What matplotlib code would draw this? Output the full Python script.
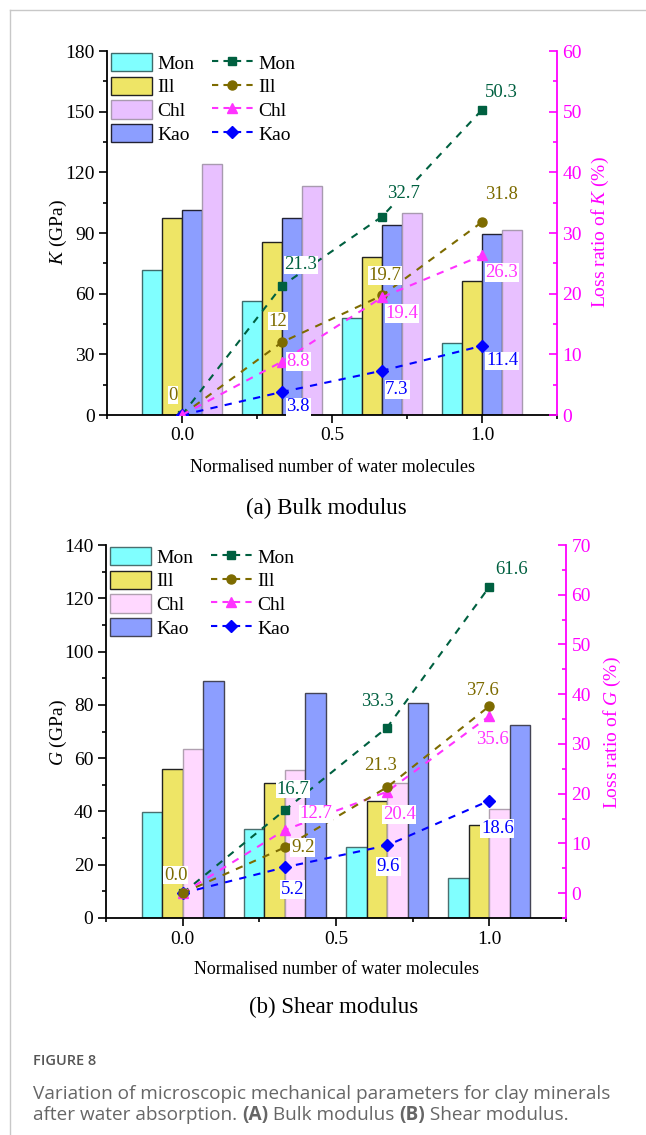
import matplotlib
matplotlib.use("Agg")
import matplotlib.pyplot as plt
from matplotlib.ticker import MultipleLocator
from matplotlib.lines import Line2D
from matplotlib.patches import Patch

plt.rcParams['font.family'] = 'Liberation Serif'
plt.rcParams['mathtext.fontset'] = 'custom'
plt.rcParams['mathtext.rm'] = 'Liberation Serif'
plt.rcParams['mathtext.it'] = 'Liberation Serif:italic'

water = [0.0, 1 / 3, 2 / 3, 1.0]
xticks = [0.0, 0.5, 1.0]
minerals = ['Mon', 'Ill', 'Chl', 'Kao']

# bulk modulus K (GPa)
bulk_mon = [71.5, 56.4, 47.8, 35.5]
bulk_ill = [97.3, 85.6, 78.0, 66.3]
bulk_chl = [124.0, 113.3, 99.9, 91.3]
bulk_kao = [101.2, 97.3, 93.8, 89.7]

# loss ratio of K (%)
kloss_mon = [0.0, 21.3, 32.7, 50.3]
kloss_ill = [0.0, 12.0, 19.7, 31.8]
kloss_chl = [0.0, 8.8, 19.4, 26.3]
kloss_kao = [0.0, 3.8, 7.3, 11.4]

# shear modulus G (GPa)
shear_mon = [39.8, 33.3, 26.5, 15.0]
shear_ill = [55.9, 50.7, 43.9, 34.8]
shear_chl = [63.6, 55.6, 50.6, 40.8]
shear_kao = [89.1, 84.6, 80.6, 72.3]

# loss ratio of G (%)
gloss_mon = [0.0, 16.7, 33.3, 61.6]
gloss_ill = [0.0, 9.2, 21.3, 37.6]
gloss_chl = [0.0, 12.7, 20.4, 35.6]
gloss_kao = [0.0, 5.2, 9.6, 18.6]

line_colors = {'Mon': '#006040', 'Ill': '#7D6B00', 'Chl': '#FF33FF', 'Kao': '#0000FF'}
markers = {'Mon': ('s', 6), 'Ill': ('o', 6.5), 'Chl': ('^', 7.5), 'Kao': ('D', 6)}
MAGENTA = '#FF00FF'
SERIF = 'Liberation Serif'

# label offsets in pixels, None = no label
k_offsets = {
    'Mon': [None, (19, 21), (21, 23), (19, 17)],
    'Ill': [(-9, 20), (-4, 21), (3, 20), (19, 28)],
    'Chl': [None, (16, 0), (20, -16), (20, -17)],
    'Kao': [None, (16, -15), (15, -19), (20, -15)],
}
g_offsets = {
    'Mon': [None, (8, 21), (-10, 26), (22, 17)],
    'Ill': [(-7, 18), (18, 0), (-7, 22), (-7, 16)],
    'Chl': [None, (31, 16), (12, -23), (3, -23)],
    'Kao': [None, (8, -22), (1, -21), (8, -28)],
}

fig = plt.figure(figsize=(6.46, 11.35), dpi=100)
W, H = 646, 1135


def panel(rect, bars, bar_order, bar_styles, losses, line_order, offsets, fmt,
          ylim, ymaj, rlim, rmaj):
    ax = fig.add_axes(rect)
    w = 0.0667
    for i, name in enumerate(bar_order):
        fc, ec = bar_styles[name]
        xs = [x + (i - 1.5) * w for x in water]
        ax.bar(xs, bars[name], width=w, color=fc, edgecolor=ec, linewidth=1.0, zorder=2)
    ax.set_xlim(-0.25, 1.25)
    ax.set_ylim(*ylim)
    ax.set_xticks(xticks)
    ax.set_xticklabels(['%.1f' % v for v in xticks])
    ax.xaxis.set_minor_locator(MultipleLocator(0.25))
    ax.set_yticks(range(ylim[0], ylim[1] + 1, ymaj))
    ax.set_yticklabels([str(v) for v in range(ylim[0], ylim[1] + 1, ymaj)])
    ax.yaxis.set_minor_locator(MultipleLocator(ymaj / 2))
    ax.spines['top'].set_visible(False)
    ax.spines['right'].set_visible(False)
    for s in ('left', 'bottom'):
        ax.spines[s].set_linewidth(1.3)
    ax.tick_params(which='major', direction='out', length=5.5, width=1.2, labelsize=14)
    ax.tick_params(which='minor', direction='out', length=3, width=1.2)

    ax2 = ax.twinx()
    ax2.set_xlim(-0.25, 1.25)
    ax2.set_ylim(*rlim)
    rt = list(range(0, rlim[1] + 1, rmaj))
    ax2.set_yticks(rt)
    ax2.set_yticklabels([str(v) for v in rt])
    ax2.yaxis.set_minor_locator(MultipleLocator(rmaj / 2))
    for s in ('top', 'left', 'bottom'):
        ax2.spines[s].set_visible(False)
    ax2.spines['right'].set_color(MAGENTA)
    ax2.spines['right'].set_linewidth(1.3)
    ax2.tick_params(which='major', direction='in', length=5.5, width=1.2,
                    colors=MAGENTA, labelsize=14, pad=4)
    ax2.tick_params(which='minor', direction='in', length=3, width=1.2, colors=MAGENTA)

    for lbl in ax.get_xticklabels() + ax.get_yticklabels() + ax2.get_yticklabels():
        lbl.set_fontfamily(SERIF)

    for name in line_order:
        m, ms = markers[name]
        c = line_colors[name]
        ax2.plot(water, losses[name], ls=(0, (3.5, 3.5)), lw=1.5, color=c,
                 marker=m, ms=ms, zorder=3)
    for name in minerals:
        c = line_colors[name]
        for x, v, off in zip(water, losses[name], offsets[name]):
            if off is None:
                continue
            ax2.annotate(fmt(v), xy=(x, v), xytext=off, textcoords='offset pixels',
                         ha='center', va='center', fontsize=13.5, color=c, zorder=5,
                         bbox=dict(fc='white', ec='none', pad=0.5))

    handles = [Patch(facecolor=bar_styles[n][0], edgecolor=bar_styles[n][1], linewidth=1.0)
               for n in minerals]
    handles += [Line2D([], [], ls=(0, (3, 2.5)), lw=1.5, color=line_colors[n],
                       marker=markers[n][0], ms=markers[n][1]) for n in minerals]
    ax2.legend(handles, minerals + minerals, ncol=2, loc='upper left',
               bbox_to_anchor=(0.0, 1.005), frameon=False, fontsize=14,
               handlelength=2.1, handleheight=1.07, labelspacing=0.2,
               handletextpad=0.3, columnspacing=0.9, borderpad=0.2, borderaxespad=0)
    return ax, ax2


top_bars = {'Mon': bulk_mon, 'Ill': bulk_ill, 'Chl': bulk_chl, 'Kao': bulk_kao}
top_styles = {'Mon': ('#80FFFF', '#3E6B6B'), 'Ill': ('#EEE566', '#222222'),
              'Chl': ('#E8C0FF', '#A89AAF'), 'Kao': ('#8C9EFF', '#222233')}
top_loss = {'Mon': kloss_mon, 'Ill': kloss_ill, 'Chl': kloss_chl, 'Kao': kloss_kao}
panel([107 / W, 1 - 415 / H, 450 / W, 364 / H], top_bars,
      ['Mon', 'Ill', 'Kao', 'Chl'], top_styles, top_loss,
      ['Mon', 'Ill', 'Kao', 'Chl'], k_offsets,
      lambda v: '%g' % v, (0, 180), 30, (0, 60), 10)

bot_bars = {'Mon': shear_mon, 'Ill': shear_ill, 'Chl': shear_chl, 'Kao': shear_kao}
bot_styles = {'Mon': ('#80FFFF', '#4A6F6F'), 'Ill': ('#EEE566', '#222222'),
              'Chl': ('#FFD8FF', '#B0A0B0'), 'Kao': ('#8C9EFF', '#444455')}
bot_loss = {'Mon': gloss_mon, 'Ill': gloss_ill, 'Chl': gloss_chl, 'Kao': gloss_kao}
panel([106 / W, 1 - 918 / H, 460 / W, 373 / H], bot_bars,
      ['Mon', 'Ill', 'Chl', 'Kao'], bot_styles, bot_loss,
      ['Mon', 'Kao', 'Chl', 'Ill'], g_offsets,
      lambda v: '%.1f' % v, (0, 140), 20, (-5, 70), 10)

# axis titles
fig.text(332 / W, 1 - 468 / H, 'Normalised number of water molecules',
         ha='center', va='center', fontsize=13)
fig.text(326 / W, 1 - 508 / H, '(a) Bulk modulus', ha='center', va='center', fontsize=16.5)
fig.text(336 / W, 1 - 970 / H, 'Normalised number of water molecules',
         ha='center', va='center', fontsize=13)
fig.text(334 / W, 1 - 1007 / H, '(b) Shear modulus', ha='center', va='center', fontsize=16.5)
fig.text(58 / W, 1 - 232 / H, '$K$ (GPa)', rotation=90, ha='center', va='center', fontsize=14)
fig.text(58 / W, 1 - 733 / H, '$G$ (GPa)', rotation=90, ha='center', va='center', fontsize=14)
fig.text(600 / W, 1 - 232 / H, 'Loss ratio of $K$ (%)', rotation=90, ha='center',
         va='center', fontsize=14, color=MAGENTA)
fig.text(612 / W, 1 - 733 / H, 'Loss ratio of $G$ (%)', rotation=90, ha='center',
         va='center', fontsize=14, color=MAGENTA)

# page frame
fig.add_artist(Line2D([10 / W, 10 / W], [0, 1 - 10 / H], color='#C8C8C8', lw=1))
fig.add_artist(Line2D([10 / W, 1], [1 - 10 / H, 1 - 10 / H], color='#C8C8C8', lw=1))

# caption
cap = dict(family='Open Sans', color='#666666', fontsize=13.7, va='center')
fig.text(33 / W, 1 - 1061 / H, 'FIGURE 8', family='Open Sans', fontweight='semibold',
         color='#555555', fontsize=10.5, va='center')
fig.text(33 / W, 1 - 1094 / H, 'Variation of microscopic mechanical parameters for clay minerals', **cap)
renderer = fig.canvas.get_renderer()
x = 33 / W
for part, bold in [('after water absorption. ', False), ('(A)', True), (' Bulk modulus ', False),
                   ('(B)', True), (' Shear modulus.', False)]:
    t = fig.text(x, 1 - 1115 / H, part, fontweight='bold' if bold else 'normal', **cap)
    x = t.get_window_extent(renderer=renderer).x1 / W

fig.savefig('out.png', dpi=100)
